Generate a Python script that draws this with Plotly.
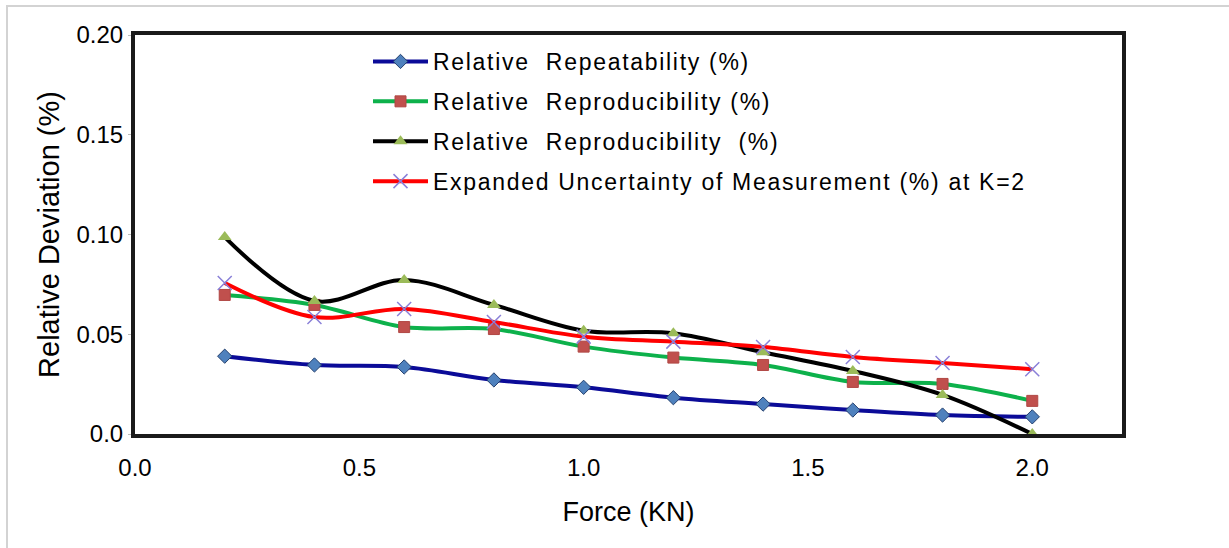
import plotly.graph_objects as go

# ---- data ----
force_kn = [0.2, 0.4, 0.6, 0.8, 1.0, 1.2, 1.4, 1.6, 1.8, 2.0]
rel_repeatability = [0.0390, 0.0346, 0.0336, 0.0271, 0.0234, 0.0182, 0.0150, 0.0120, 0.0095, 0.0086]
rel_reproducibility = [0.0697, 0.0647, 0.0536, 0.0526, 0.0438, 0.0383, 0.0346, 0.0261, 0.0251, 0.0166]
rel_reproducibility_2 = [0.0987, 0.0667, 0.0772, 0.0647, 0.0518, 0.0505, 0.0410, 0.0316, 0.0196, 0.0000]
expanded_uncertainty = [0.0757, 0.0586, 0.0627, 0.0561, 0.0488, 0.0463, 0.0436, 0.0386, 0.0356, 0.0325]

series_names = [
    "Relative  Repeatability (%)",
    "Relative  Reproducibility (%)",
    "Relative  Reproducibility  (%)",
    "Expanded Uncertainty of Measurement (%) at K=2",
]

x_tickvals = [0.0, 0.5, 1.0, 1.5, 2.0]
x_ticktext = ["0.0", "0.5", "1.0", "1.5", "2.0"]
y_tickvals = [0.0, 0.05, 0.10, 0.15, 0.20]
y_ticktext = ["0.0", "0.05", "0.10", "0.15", "0.20"]

FONT = "Liberation Sans, Arial, sans-serif"

fig = go.Figure()

fig.add_trace(go.Scatter(
    x=force_kn, y=rel_repeatability, name=series_names[0], legendgroup="a",
    mode="lines+markers", line=dict(color="#0B0B98", width=4, shape="spline"),
    marker=dict(symbol="diamond", size=11, color="#4F81BD", line=dict(color="#24406E", width=1)),
))
fig.add_trace(go.Scatter(
    x=force_kn, y=rel_reproducibility, name=series_names[1], legendgroup="b",
    mode="lines+markers", line=dict(color="#0DB14B", width=4, shape="spline"),
    marker=dict(symbol="square", size=11, color="#C0504D", line=dict(color="#B04744", width=1)),
))
fig.add_trace(go.Scatter(
    x=force_kn, y=rel_reproducibility_2, name=series_names[2], legendgroup="c",
    mode="lines+markers", line=dict(color="#000000", width=4, shape="spline"),
    marker=dict(symbol="triangle-up", size=12, color="#9BBB59", line=dict(color="#9BBB59", width=0)),
))
fig.add_trace(go.Scatter(
    x=force_kn, y=expanded_uncertainty, name=series_names[3], legendgroup="d",
    mode="lines+markers", line=dict(color="#FF0000", width=4, shape="spline"),
    marker=dict(symbol="x-thin", size=14, color="#8A80D8", line=dict(color="#8A80D8", width=1.5)),
))

L, R, T, B = 135, 107, 35, 114
W, H = 1229, 548
pw, ph = W - L - R, H - T - B

def px_x(p):
    return (p - L) / pw

def px_y(p):
    return (H - B - p) / ph

fig.update_layout(
    width=W, height=H,
    margin=dict(l=L, r=R, t=T, b=B, pad=0),
    paper_bgcolor="white", plot_bgcolor="white",
    font=dict(family=FONT, color="#000000"),
    showlegend=True,
    legend=dict(
        x=px_x(368), y=px_y(40), xanchor="left", yanchor="top",
        bgcolor="rgba(0,0,0,0)", borderwidth=0,
        font=dict(family=FONT, size=23, color="#000000"),
        itemwidth=55, tracegroupgap=7, traceorder="grouped",
    ),
    xaxis=dict(
        range=[0, 2.2], tickmode="array", tickvals=x_tickvals, ticktext=x_ticktext,
        showgrid=False, zeroline=False,
        showline=True, linewidth=4, linecolor="#1A1A1A", mirror=True,
        ticks="", ticklabelstandoff=9,
        tickfont=dict(family=FONT, size=24, color="#000000"),
        title=dict(text="Force (KN)", font=dict(family=FONT, size=27, color="#000000"), standoff=23),
    ),
    yaxis=dict(
        range=[0, 0.2], tickmode="array", tickvals=y_tickvals, ticktext=y_ticktext,
        showgrid=False, zeroline=False,
        showline=True, linewidth=4, linecolor="#1A1A1A", mirror=True,
        ticks="outside", ticklen=3, tickwidth=1, tickcolor="#BBBBBB",
        tickfont=dict(family=FONT, size=24, color="#000000"),
        title=dict(text="Relative Deviation (%)", font=dict(family=FONT, size=29, color="#000000"), standoff=9),
    ),
    shapes=[
        dict(type="rect", xref="paper", yref="paper",
             x0=px_x(7), x1=px_x(1232), y0=px_y(552), y1=px_y(6),
             line=dict(color="#D3D3D3", width=2), fillcolor="rgba(0,0,0,0)", layer="below"),
    ],
)

post = (
    "document.body.style.margin='0';"
    "document.querySelectorAll('.legend [clip-path]').forEach(function(e){e.removeAttribute('clip-path');});"
    "document.querySelectorAll('.legendtext').forEach(function(e){e.style.letterSpacing='1.7px';});"
)
fig.write_html("out.html", post_script=post, config={"displayModeBar": False})
